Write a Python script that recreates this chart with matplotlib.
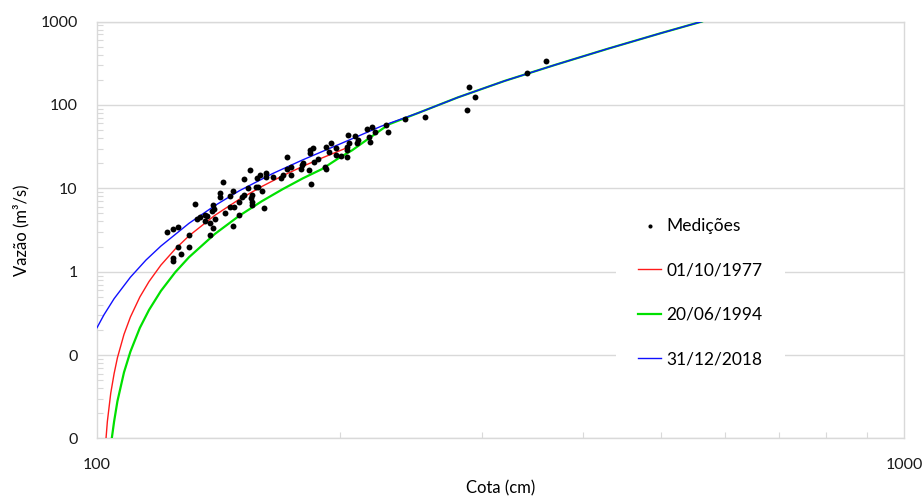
import matplotlib
matplotlib.use("Agg")
import matplotlib.pyplot as plt
import matplotlib.ticker as mtick

plt.rcParams["font.family"] = ["Lato", "DejaVu Sans"]

# field measurements (cota in cm, vazao in m3/s)
cota_med = [
    122.0, 124.1, 126.1, 125.9, 130.1, 130.1, 127.0, 124.1, 124.1, 132.1,
    133.1, 134.2, 136.1, 137.0, 136.1, 138.0, 140.0, 138.0, 139.0, 139.1,
    139.6, 139.1, 143.1, 142.0, 142.0, 144.1, 146.2, 146.2, 147.2, 148.0,
    147.2, 150.0, 150.0, 151.4, 152.1, 152.1, 154.0, 154.7, 155.1, 155.4,
    155.4, 155.7, 157.2, 158.1, 157.7, 159.0, 160.0, 160.9, 162.0, 162.0,
    165.1, 169.0, 169.9, 171.8, 172.2, 173.8, 173.8, 178.8, 179.3, 179.8,
    183.1, 183.6, 183.6, 185.0, 185.7, 184.1, 188.0, 192.0, 191.8, 192.0,
    194.0, 194.8, 197.8, 197.8, 200.4, 203.9, 203.9, 203.9, 204.8, 205.4,
    208.8, 209.8, 210.4, 215.9, 218.9, 217.5, 217.9, 221.0, 227.9, 229.2,
    240.8, 254.9, 289.3, 294.0, 287.6, 340.8, 360.0,
]
vazao_med = [
    3.02, 3.22, 3.44, 2.00, 2.75, 1.96, 1.63, 1.45, 1.36, 6.43,
    4.25, 4.49, 4.79, 4.65, 4.09, 3.80, 4.28, 2.75, 5.35, 6.31,
    5.65, 3.34, 12.0, 8.71, 7.94, 5.10, 8.16, 6.02, 9.28, 6.02,
    3.56, 4.79, 6.92, 7.94, 12.8, 8.31, 10.0, 16.6, 7.58, 6.92,
    6.25, 8.31, 10.5, 10.3, 13.2, 14.3, 9.28, 5.86, 15.4, 13.5,
    13.8, 13.2, 14.4, 23.5, 16.9, 14.6, 18.2, 16.9, 19.0, 19.9,
    16.6, 28.8, 26.8, 30.2, 20.9, 11.3, 22.5, 31.6, 18.2, 16.9,
    27.5, 34.6, 30.2, 25.1, 24.4, 23.5, 28.8, 31.6, 43.6, 34.6,
    42.4, 35.3, 37.9, 50.9, 53.8, 41.6, 36.2, 47.8, 56.9, 47.8,
    67.8, 71.0, 164, 125, 86.9, 239, 333,
]

# rating curves
cota_1977 = [102.6, 103, 104, 105, 106, 108, 110, 113, 116, 120, 125, 130,
             140, 150, 160, 170, 180, 190, 204]
vazao_1977 = [0.010, 0.016, 0.035, 0.060, 0.093, 0.177, 0.286, 0.497, 0.762,
              1.20, 1.87, 2.69, 4.75, 7.36, 10.5, 14.2, 18.4, 23.1, 30.6]

cota_1994 = [104.3, 105, 106, 108, 110, 113, 116, 120, 125, 130, 140, 150,
             160, 170, 180, 190, 200, 207, 215, 222, 230, 250, 280, 320, 370,
             430, 500, 562]
vazao_1994 = [0.010, 0.016, 0.028, 0.062, 0.110, 0.212, 0.348, 0.588, 0.984,
              1.49, 2.84, 4.67, 6.99, 9.81, 13.2, 17.0, 23.5, 28.5, 37.0, 46.0,
              58.5, 80.0, 123, 194, 303, 473, 726, 1000]

cota_2018 = [100, 102, 105, 110, 115, 120, 130, 140, 150, 165, 180, 200, 225,
             250, 280, 320, 370, 430, 500, 562]
vazao_2018 = [0.213, 0.304, 0.475, 0.859, 1.38, 2.03, 3.80, 6.21, 9.31, 15.0,
              22.0, 34.0, 55.5, 80.0, 123, 194, 303, 473, 726, 1000]

GRID = "#d9d9d9"

fig = plt.figure(figsize=(9.23, 4.98), dpi=100)
ax = fig.add_axes([0.1051, 0.1195, 0.8743, 0.8373])

ax.plot(cota_1994, vazao_1994, color="#00e000", lw=1.6, label="20/06/1994", zorder=3)
ax.plot(cota_1977, vazao_1977, color="#ff1a1a", lw=1.0, label="01/10/1977", zorder=4)
ax.plot(cota_2018, vazao_2018, color="#1010ff", lw=1.0, label="31/12/2018", zorder=5)
ax.scatter(cota_med, vazao_med, s=18, color="black", linewidths=0,
           label="Medições", zorder=6)

ax.set_xscale("log")
ax.set_yscale("log")
ax.set_xlim(100, 1000)
ax.set_ylim(0.01, 1000)

ax.xaxis.set_major_locator(mtick.FixedLocator([100, 1000]))
ax.xaxis.set_minor_locator(mtick.LogLocator(base=10, subs=range(2, 10)))
ax.xaxis.set_major_formatter(mtick.FuncFormatter(lambda v, p: f"{v:.0f}"))
ax.xaxis.set_minor_formatter(mtick.NullFormatter())
ax.yaxis.set_major_locator(mtick.LogLocator(base=10, numticks=10))
ax.yaxis.set_minor_locator(mtick.LogLocator(base=10, subs=range(2, 10), numticks=10))
# excel style: 0.1 and 0.01 both shown as "0"
ax.yaxis.set_major_formatter(mtick.FuncFormatter(lambda v, p: f"{v:.0f}"))
ax.yaxis.set_minor_formatter(mtick.NullFormatter())

ax.tick_params(axis="both", which="both", direction="in", colors=GRID,
               labelcolor="#1a1a1a", labelsize=11.5)
ax.tick_params(axis="both", which="major", length=0, pad=14)
ax.tick_params(axis="both", which="minor", length=4, width=0.8)
ax.tick_params(axis="x", which="major", pad=14)

ax.grid(axis="y", which="major", color=GRID, lw=1.0)
ax.set_axisbelow(True)
for s in ax.spines.values():
    s.set_color(GRID)
    s.set_linewidth(1.0)

ax.set_xlabel("Cota (cm)", fontsize=12, labelpad=6)
ax.set_ylabel("Vazão (m³/s)", fontsize=12, labelpad=8)

handles, labels = ax.get_legend_handles_labels()
order = [labels.index(l) for l in ["Medições", "01/10/1977", "20/06/1994", "31/12/2018"]]
leg = ax.legend([handles[i] for i in order], [labels[i] for i in order],
                loc="center left", bbox_to_anchor=(0.632, 0.35),
                fontsize=12.5, frameon=True, fancybox=False, borderpad=1.3,
                labelspacing=1.65, handlelength=1.3, handletextpad=0.3,
                markerscale=0.7)
leg.get_frame().set_facecolor("white")
leg.get_frame().set_edgecolor("none")
leg.get_frame().set_alpha(1.0)
leg.set_zorder(10)

fig.savefig("out.png", dpi=100)
